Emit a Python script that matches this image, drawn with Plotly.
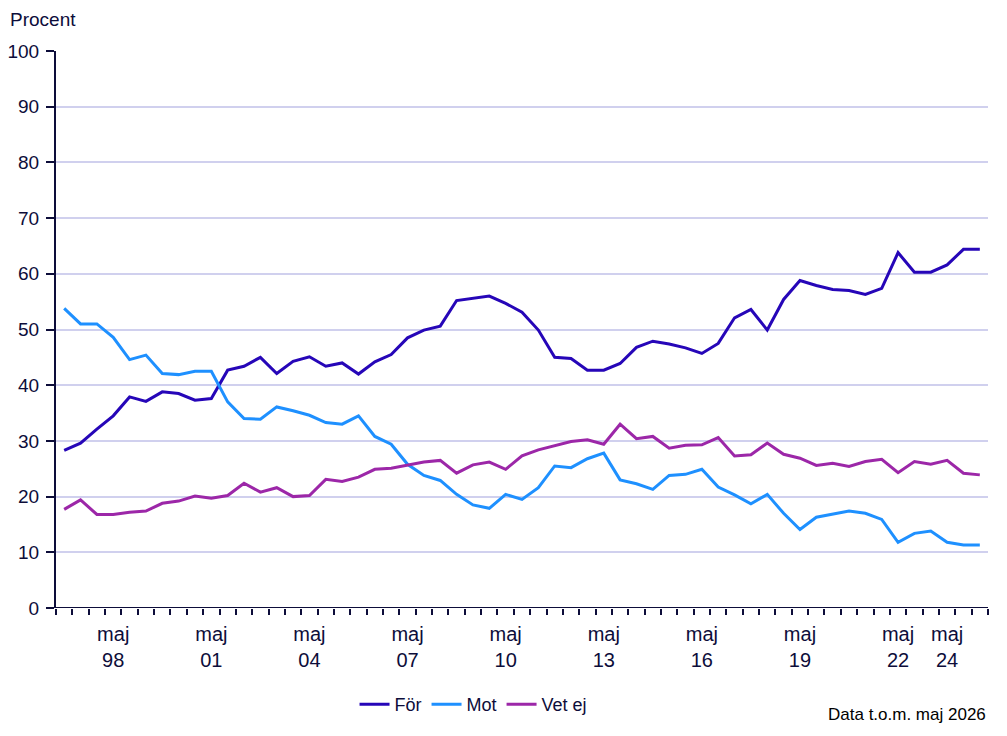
import plotly.graph_objects as go

# Survey periods (half-yearly until 2022, then yearly)
periods = ["nov 96"]
for yr in range(97, 123):
    y2 = f"{yr % 100:02d}"
    periods.append(f"maj {y2}")
    if yr < 122:
        periods.append(f"nov {y2}")
periods = periods[:51] + ["maj 22", "nov 22", "maj 23", "maj 24", "maj 25", "maj 26"]
periods = periods[:57]

for_vals = [28.3, 29.6, 32.1, 34.5, 37.9, 37.1, 38.8, 38.5, 37.3, 37.6,
            42.7, 43.4, 45.0, 42.1, 44.3, 45.1, 43.4, 44.0, 42.0, 44.2,
            45.5, 48.5, 49.9, 50.6, 55.2, 55.6, 56.0, 54.7, 53.1, 49.9,
            45.0, 44.8, 42.7, 42.7, 43.9, 46.8, 47.9, 47.4, 46.7, 45.7,
            47.5, 52.1, 53.6, 49.9, 55.4, 58.8, 57.9, 57.2, 57.0, 56.3,
            57.4, 63.8, 60.3, 60.3, 61.6, 64.4, 64.4]
mot_vals = [53.8, 51.0, 51.0, 48.6, 44.6, 45.4, 42.1, 41.9, 42.5, 42.5,
            37.0, 34.0, 33.9, 36.1, 35.4, 34.6, 33.3, 33.0, 34.5, 30.8,
            29.4, 25.8, 23.8, 22.9, 20.4, 18.5, 17.9, 20.4, 19.5, 21.6,
            25.5, 25.2, 26.8, 27.8, 23.0, 22.3, 21.3, 23.8, 24.0, 24.9,
            21.7, 20.3, 18.7, 20.4, 17.0, 14.1, 16.3, 16.9, 17.4, 17.0,
            15.9, 11.8, 13.4, 13.8, 11.8, 11.3, 11.3]
vetej_vals = [17.7, 19.4, 16.8, 16.8, 17.2, 17.4, 18.8, 19.2, 20.1, 19.7,
              20.2, 22.4, 20.8, 21.6, 20.0, 20.2, 23.1, 22.7, 23.5, 24.9,
              25.1, 25.7, 26.2, 26.5, 24.2, 25.7, 26.2, 24.9, 27.3, 28.4,
              29.2, 29.9, 30.2, 29.4, 33.0, 30.4, 30.8, 28.7, 29.2, 29.3,
              30.6, 27.3, 27.5, 29.6, 27.6, 26.9, 25.6, 26.0, 25.4, 26.3,
              26.7, 24.3, 26.3, 25.8, 26.5, 24.2, 23.9]

label_periods = ["maj 98", "maj 01", "maj 04", "maj 07", "maj 10",
                 "maj 13", "maj 16", "maj 19", "maj 22", "maj 24"]

x = list(range(len(periods)))
label_pos = [periods.index(p) for p in label_periods]
label_text = [p.replace(" ", "<br>") for p in label_periods]

FONT = "Liberation Sans, Arial, sans-serif"
TXT = "#0d0d3a"

fig = go.Figure()
for name, vals, col in [("För", for_vals, "#2606b8"),
                        ("Mot", mot_vals, "#1e90ff"),
                        ("Vet ej", vetej_vals, "#9c27a8")]:
    fig.add_trace(go.Scatter(x=x, y=vals, name=name, mode="lines",
                             line=dict(color=col, width=3),
                             text=periods, hovertemplate="%{text}: %{y}<extra>" + name + "</extra>"))

fig.update_layout(
    width=1007, height=736,
    margin=dict(l=56, r=19, t=51, b=128),
    plot_bgcolor="white", paper_bgcolor="white",
    font=dict(family=FONT, size=17, color=TXT),
    showlegend=True,
    legend=dict(orientation="h", x=0.448, xanchor="center", y=-0.14, yanchor="top",
                font=dict(size=18, color=TXT), itemwidth=30, tracegroupgap=0),
    xaxis=dict(range=[-0.5, len(periods) - 0.5], tickmode="array", automargin=False,
               tickvals=label_pos, ticktext=label_text, ticks="", showgrid=False,
               zeroline=False, showline=False, tickfont=dict(size=20, color=TXT),
               ticklabelstandoff=12,
               minor=dict(tickmode="array",
                          tickvals=[i - 0.5 for i in range(len(periods) + 1)],
                          ticks="outside", ticklen=6, tickwidth=2, tickcolor="#0d0d3a",
                          showgrid=False)),
    yaxis=dict(range=[0, 100], dtick=10, showgrid=True, gridcolor="#d0d0ee", gridwidth=2,
               zeroline=False, showline=True, linecolor="#0d0d3a", linewidth=2,
               ticks="outside", ticklen=8, tickwidth=2, tickcolor="#0d0d3a",
               ticklabelstandoff=3, automargin=False,
               tickfont=dict(size=19, color=TXT)),
    shapes=[dict(type="line", xref="paper", yref="y", x0=0, x1=1, y0=0, y1=0,
                 line=dict(color="#0d0d3a", width=2))],
    annotations=[
        dict(text="Procent", xref="paper", yref="paper", x=-0.052, y=1.035,
             xanchor="left", yanchor="bottom", showarrow=False,
             font=dict(size=19, color=TXT)),
        dict(text="Data t.o.m. maj 2026", xref="paper", yref="paper", x=1.0, y=-0.17,
             xanchor="right", yanchor="top", showarrow=False,
             font=dict(size=17, color="#000000")),
    ],
)

fig.write_html("out.html")
